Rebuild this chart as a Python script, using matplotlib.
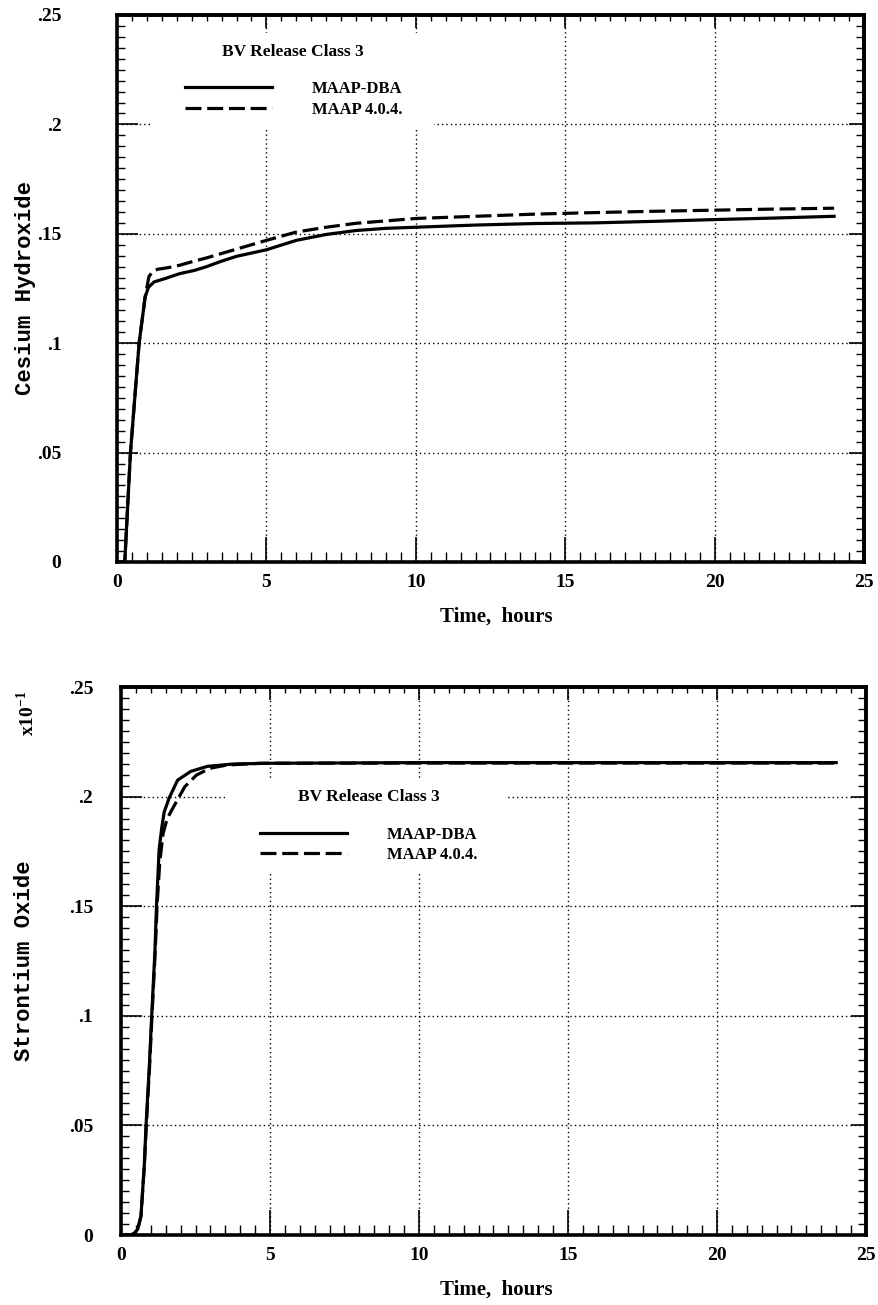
import matplotlib
matplotlib.use('Agg')
import matplotlib.pyplot as plt
from matplotlib.patches import Rectangle
from matplotlib.ticker import MultipleLocator, FixedLocator

plt.rcParams['font.family'] = 'Liberation Serif'
plt.rcParams['font.weight'] = 'bold'
plt.rcParams['axes.labelweight'] = 'bold'
plt.rcParams['mathtext.fontset'] = 'custom'
plt.rcParams['mathtext.rm'] = 'Liberation Serif:bold'
plt.rcParams['mathtext.bf'] = 'Liberation Serif:bold'

# ---- data ----
cs_dba_t = [0, 0.26, 0.45, 0.74, 0.94, 1.05, 1.24, 1.6, 2.1, 2.6, 3.0, 3.5, 4.0,
            4.5, 5.0, 6.0, 7.0, 8.0, 9.0, 10, 12, 14, 16, 18, 20, 22, 24]
cs_dba_y = [0, 0, 0.05, 0.10, 0.121, 0.1255, 0.128, 0.1295, 0.1318, 0.1333, 0.135,
            0.1375, 0.1397, 0.1412, 0.1427, 0.147, 0.1497, 0.1515, 0.1525, 0.153,
            0.154, 0.1547, 0.155, 0.1557, 0.1565, 0.1572, 0.158]

cs_404_t = [0, 0.26, 0.45, 0.74, 0.94, 1.0, 1.07, 1.2, 1.36, 1.7, 2.09, 2.5, 3.0,
            3.5, 4.0, 4.5, 5.0, 6.0, 7.0, 8.0, 10, 12, 14, 16, 18, 20, 22, 24]
cs_404_y = [0, 0, 0.05, 0.10, 0.121, 0.1255, 0.1305, 0.1328, 0.1338, 0.1345, 0.1356,
            0.1372, 0.139, 0.141, 0.143, 0.145, 0.147, 0.1508, 0.153, 0.1548, 0.157,
            0.158, 0.159, 0.1597, 0.1603, 0.1608, 0.1613, 0.1617]

sr_dba_t = [0, 0.33, 0.45, 0.56, 0.67, 0.78, 0.84, 0.95, 1.03, 1.14, 1.19, 1.28,
            1.37, 1.45, 1.62, 1.9, 2.34, 2.9, 3.8, 5, 10, 15, 20, 24]
sr_dba_y = [0, 0, 0.0008, 0.0026, 0.0087, 0.0315, 0.05, 0.077, 0.10, 0.13, 0.15,
            0.176, 0.186, 0.193, 0.1995, 0.2075, 0.2115, 0.2138, 0.2149, 0.2152,
            0.2155, 0.2155, 0.2155, 0.2155]

sr_404_t = [0, 0.33, 0.45, 0.56, 0.67, 0.78, 0.85, 0.96, 1.04, 1.15, 1.21, 1.3,
            1.41, 1.55, 1.75, 2.14, 2.53, 2.98, 3.55, 4.67, 10, 15, 20, 24]
sr_404_y = [0, 0, 0.0008, 0.0026, 0.0085, 0.031, 0.05, 0.077, 0.10, 0.13, 0.15,
            0.17, 0.183, 0.19, 0.195, 0.2045, 0.2098, 0.2129, 0.2144, 0.2152,
            0.2153, 0.2153, 0.2153, 0.2153]

x_ticks = [0, 5, 10, 15, 20, 25]
y_ticks = [0, 0.05, 0.1, 0.15, 0.2, 0.25]
y_tick_labels = ['0', '.05', '.1', '.15', '.2', '.25']

series_labels = ['MAAP-DBA', 'MAAP 4.0.4.']
case_title = 'BV Release Class 3'

W, H = 879, 1305
fig = plt.figure(figsize=(W / 100, H / 100), dpi=100)

# axes rectangles in pixels: left, right, top, bottom
boxes = [(117, 864, 15, 562), (121, 866, 687, 1235)]
axes = []
for (l, r, t, b) in boxes:
    axes.append(fig.add_axes([l / W, 1 - b / H, (r - l) / W, (b - t) / H]))

DASH = (0, (5, 1.8))
LW = 2.3


def px(ax_box, x, y):
    l, r, t, b = ax_box
    return (x - l) / (r - l), (b - y) / (b - t)


def style_axes(ax, ylab_pad):
    ax.set_xlim(0, 25)
    ax.set_ylim(0, 0.25)
    ax.xaxis.set_major_locator(FixedLocator(x_ticks))
    ax.xaxis.set_minor_locator(MultipleLocator(0.5))
    ax.yaxis.set_major_locator(FixedLocator(y_ticks))
    ax.yaxis.set_minor_locator(MultipleLocator(0.005))
    ax.set_xticklabels([str(v) for v in x_ticks])
    ax.set_yticklabels(y_tick_labels)
    ax.tick_params(axis='x', which='major', direction='in', length=18, width=1.2,
                   labelsize=14, pad=9)
    ax.tick_params(axis='x', which='minor', direction='in', length=7, width=1.0)
    ax.tick_params(axis='y', which='major', direction='in', length=15, width=1.2,
                   labelsize=14, pad=ylab_pad)
    ax.tick_params(axis='y', which='minor', direction='in', length=6, width=1.0)
    for s in ax.spines.values():
        s.set_linewidth(2.6)
    ax.grid(True, which='major', color='k', linestyle=(0, (1, 2.2)), linewidth=1.0)

    top = ax.secondary_xaxis('top')
    top.xaxis.set_major_locator(FixedLocator(x_ticks))
    top.xaxis.set_minor_locator(MultipleLocator(0.5))
    top.tick_params(which='major', direction='in', length=9, width=1.2, labeltop=False)
    top.tick_params(which='minor', direction='in', length=4, width=1.0)
    top.spines['top'].set_linewidth(2.6)

    right = ax.secondary_yaxis('right')
    right.yaxis.set_major_locator(FixedLocator(y_ticks))
    right.yaxis.set_minor_locator(MultipleLocator(0.005))
    right.tick_params(which='major', direction='in', length=11, width=1.2, labelright=False)
    right.tick_params(which='minor', direction='in', length=6, width=1.0)
    right.spines['right'].set_linewidth(2.6)


# ---- top panel: cesium hydroxide ----
ax = axes[0]
b0 = boxes[0]
style_axes(ax, 40)
ax.plot(cs_dba_t, cs_dba_y, color='k', lw=LW, zorder=3, label=series_labels[0])
ax.plot(cs_404_t, cs_404_y, color='k', lw=LW, ls=DASH, zorder=3, label=series_labels[1])
ax.add_patch(Rectangle((1.1, 0.1984), 9.5, 0.0434, facecolor='white',
                       edgecolor='none', zorder=2))
ax.text(*px(b0, 222, 52), case_title, transform=ax.transAxes, fontsize=12.5,
        ha='left', va='center', zorder=4)
ax.legend(loc='center left', bbox_to_anchor=px(b0, 185, 99.5), frameon=False,
          fontsize=12, handlelength=5.2, handletextpad=2.4, labelspacing=0.28,
          borderpad=0, borderaxespad=0)
ax.set_xlabel('Time,  hours', fontsize=15)
ax.xaxis.set_label_coords(px(b0, 496, 0)[0], px(b0, 0, 617)[1])
ax.xaxis.label.set_va('center')
ax.set_ylabel('Cesium Hydroxide', family='Liberation Mono', fontsize=16, va='center')
ax.yaxis.set_label_coords(px(b0, 25, 0)[0], 0.5)

# ---- bottom panel: strontium oxide ----
ax = axes[1]
b1 = boxes[1]
style_axes(ax, 20)
ax.plot(sr_dba_t, sr_dba_y, color='k', lw=LW, zorder=3, label=series_labels[0])
ax.plot(sr_404_t, sr_404_y, color='k', lw=LW, ls=DASH, zorder=3, label=series_labels[1])
ax.add_patch(Rectangle((3.49, 0.1651), 9.4, 0.0425, facecolor='white',
                       edgecolor='none', zorder=2))
ax.text(*px(b1, 298, 797), case_title, transform=ax.transAxes, fontsize=12.5,
        ha='left', va='center', zorder=4)
ax.legend(loc='center left', bbox_to_anchor=px(b1, 260, 845), frameon=False,
          fontsize=12, handlelength=5.2, handletextpad=2.4, labelspacing=0.28,
          borderpad=0, borderaxespad=0)
ax.set_xlabel('Time,  hours', fontsize=15)
ax.xaxis.set_label_coords(px(b1, 496, 0)[0], px(b1, 0, 1290)[1])
ax.xaxis.label.set_va('center')
ax.set_ylabel('Strontium Oxide', family='Liberation Mono', fontsize=16, va='center')
ax.yaxis.set_label_coords(px(b1, 25, 0)[0], 0.5)
ax.text(*px(b1, 27, 713), r'x10$^{-1}$', transform=ax.transAxes,
        rotation=90, fontsize=14, ha='center', va='center')

fig.savefig('out.png', dpi=100)
